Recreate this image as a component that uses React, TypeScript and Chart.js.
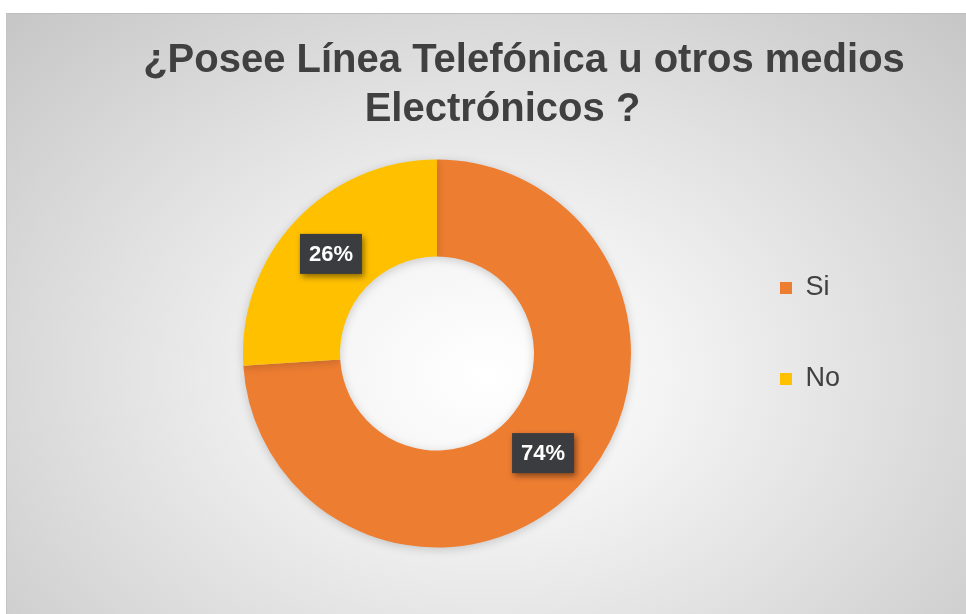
import React, { useEffect, useRef } from 'react';
import { Chart, registerables } from 'chart.js';

Chart.register(...registerables);

const titleLines = ['¿Posee Línea Telefónica u otros medios', 'Electrónicos ?'];
const categories = ['Si', 'No'];
const values = [74, 26];
const sliceColors = ['#ED7D31', '#FFC000'];
const valueLabels = ['74%', '26%'];

const FONT = '"Liberation Sans", Arial, sans-serif';

const titlePlugin = {
  id: 'twoLineTitle',
  afterDraw(chart: any) {
    const ctx = chart.ctx;
    ctx.save();
    ctx.fillStyle = '#404040';
    ctx.font = `bold 40px ${FONT}`;
    ctx.textAlign = 'center';
    ctx.textBaseline = 'alphabetic';
    ctx.fillText(titleLines[0], 518, 59);
    ctx.fillText(titleLines[1], 496.5, 108);
    ctx.restore();
  },
};

const ringShadowPlugin = {
  id: 'ringShadow',
  beforeDatasetsDraw(chart: any) {
    const ctx = chart.ctx;
    ctx.save();
    ctx.shadowColor = 'rgba(0,0,0,0.18)';
    ctx.shadowBlur = 10;
    ctx.shadowOffsetX = 0;
    ctx.shadowOffsetY = 2;
  },
  afterDatasetsDraw(chart: any) {
    chart.ctx.restore();
  },
};

const valueLabelPlugin = {
  id: 'valueLabels',
  afterDatasetsDraw(chart: any) {
    const ctx = chart.ctx;
    const meta = chart.getDatasetMeta(0);
    ctx.save();
    ctx.font = `bold 22px ${FONT}`;
    ctx.textAlign = 'center';
    ctx.textBaseline = 'middle';
    meta.data.forEach((arc: any, i: number) => {
      const p = arc.tooltipPosition();
      const w = 62;
      const h = 40;
      ctx.save();
      ctx.shadowColor = 'rgba(0,0,0,0.45)';
      ctx.shadowBlur = 6;
      ctx.shadowOffsetX = 2;
      ctx.shadowOffsetY = 3;
      ctx.fillStyle = '#3b3c40';
      ctx.fillRect(p.x - w / 2, p.y - h / 2, w, h);
      ctx.restore();
      ctx.fillStyle = '#ffffff';
      ctx.fillText(valueLabels[i], p.x, p.y + 1);
    });
    ctx.restore();
  },
};

export default function App() {
  const ref = useRef<HTMLCanvasElement | null>(null);

  useEffect(() => {
    if (!ref.current) return;
    const chart = new Chart(ref.current, {
      type: 'doughnut',
      data: {
        labels: categories,
        datasets: [
          {
            data: values,
            backgroundColor: sliceColors,
            borderWidth: 0,
            radius: 194,
            cutout: '50%',
            clip: false,
          } as any,
        ],
      },
      options: {
        responsive: false,
        devicePixelRatio: 1,
        animation: false,
        events: [],
        layout: {
          padding: { left: 152, right: 116, top: 197.5, bottom: 117.5 },
        },
        plugins: {
          title: { display: false },
          tooltip: { enabled: false },
          legend: {
            display: true,
            position: 'right',
            align: 'start',
            labels: {
              boxWidth: 12,
              boxHeight: 12,
              padding: 64,
              color: '#404040',
              font: { family: FONT, size: 27 },
            },
          },
        },
      } as any,
      plugins: [ringShadowPlugin, valueLabelPlugin, titlePlugin],
    });
    return () => chart.destroy();
  }, []);

  return (
    <div
      style={{
        position: 'absolute',
        left: 0,
        top: 0,
        width: 966,
        height: 614,
        overflow: 'hidden',
        background: '#ffffff',
      }}
    >
      <div
        style={{
          position: 'absolute',
          left: 6,
          top: 13,
          width: 960,
          height: 601,
          boxSizing: 'border-box',
          borderTop: '1px solid #bdbdbd',
          borderLeft: '1px solid #c4c4c4',
          background:
            'radial-gradient(ellipse farthest-corner at 50% 60%, #ffffff 0%, #f6f6f6 22%, #e2e2e2 55%, #c6c6c6 100%)',
        }}
      />
      <canvas
        ref={ref}
        width={960}
        height={601}
        style={{ position: 'absolute', left: 6, top: 13, width: 960, height: 601 }}
      />
    </div>
  );
}
